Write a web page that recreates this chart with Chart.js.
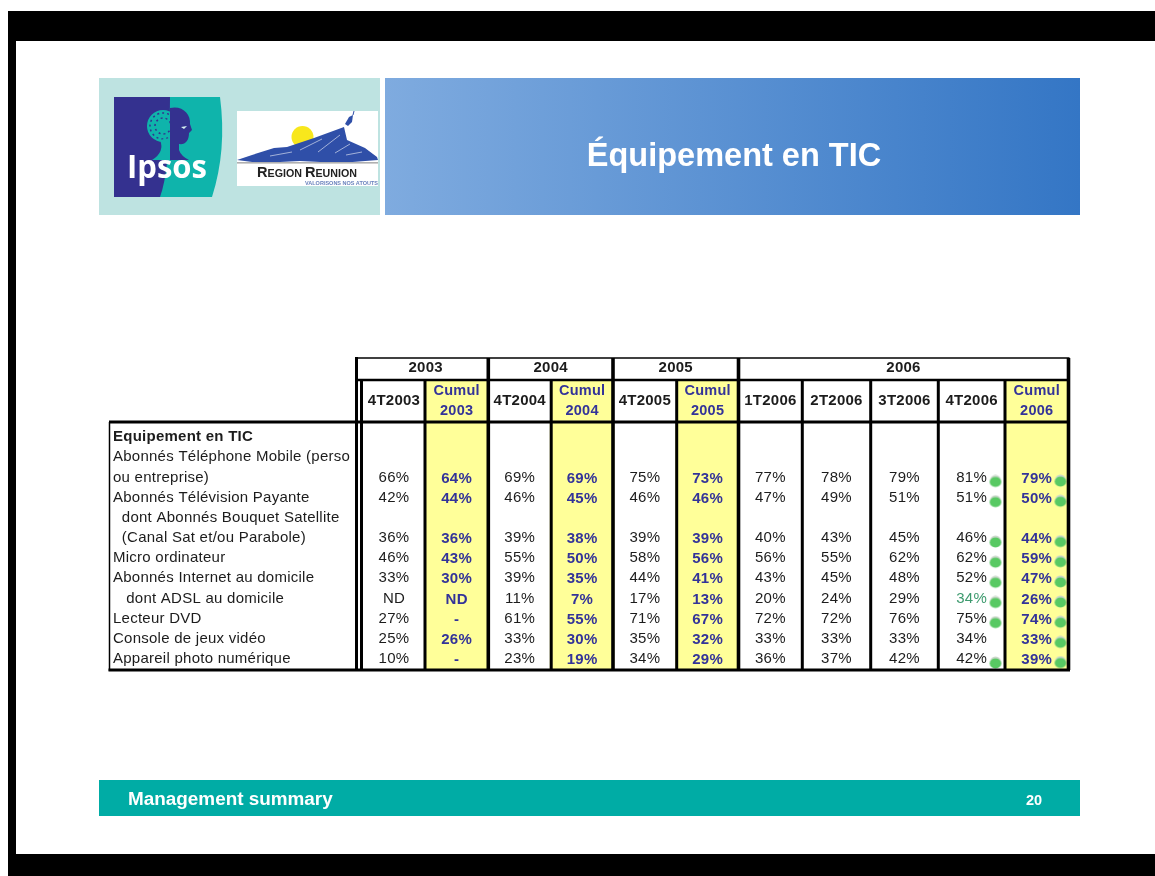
<!DOCTYPE html>
<html lang="fr">
<head>
<meta charset="utf-8">
<title>Équipement en TIC</title>
<script src="https://cdn.jsdelivr.net/npm/chart.js@4"></script>
<style>
    html, body { margin: 0; padding: 0; background: #fff; }
    #page { position: relative; width: 1155px; height: 876px; overflow: hidden; filter: blur(0.35px); }
    #page svg, #page canvas { position: absolute; left: 0; top: 0; }
    text { font-family: "Liberation Sans", Arial, sans-serif; }
</style>
</head>
<body>
<div id="page">
    <!-- Slide furniture: black frame, header band, logos, footer -->
    <svg width="1155" height="876" viewBox="0 0 1155 876">
        <defs>
            <linearGradient id="band" x1="0" x2="1" y1="0" y2="0">
                <stop offset="0" stop-color="#7fabdf"/>
                <stop offset="1" stop-color="#3476c5"/>
            </linearGradient>
        </defs>
        <rect x="8" y="11" width="1147" height="30" fill="#000"/>
        <rect x="8" y="11" width="8" height="865" fill="#000"/>
        <rect x="8" y="854" width="1147" height="22" fill="#000"/>

        <rect x="99" y="78" width="281" height="137" fill="#bee3e1"/>
        <rect x="385" y="78" width="695" height="137" fill="url(#band)"/>
        <text x="734" y="165.5" text-anchor="middle" font-size="32.5" font-weight="700" fill="#fff">Équipement en TIC</text>

        <!-- Ipsos logo -->
        <rect x="114" y="97" width="60" height="100" fill="#34318f"/>
        <path d="M170,97 L220,97 Q227,150 212,197 L160,197 Q170,170 170,97 Z" fill="#0fb4ab"/>
        <circle cx="163" cy="126" r="16" fill="#0fb4ab"/>
        <circle cx="163" cy="126" r="13" fill="none" stroke="#34318f" stroke-width="1.5" stroke-dasharray="2 3"/>
        <circle cx="163" cy="126" r="8" fill="none" stroke="#34318f" stroke-width="1.5" stroke-dasharray="2 3"/>
        <path d="M160,140 Q165,152 152,160 L170,160 L170,138 Z" fill="#0fb4ab"/>
        <path d="M170,108 C182,105 191,114 190,124 L192,130 L189,133 C189,141 185,145 179,144 L179,150 Q181,156 189,160 L170,160 Z" fill="#34318f"/>
        <path d="M181,127 L187,126 L184,129 Z" fill="#d8f2f0"/>
        <text x="127" y="178" font-size="33" font-weight="700" fill="#fff" textLength="80" lengthAdjust="spacingAndGlyphs" style="font-family:'Open Sans',sans-serif">Ipsos</text>

        <!-- Region Reunion logo -->
        <rect x="237" y="111" width="141" height="75" fill="#fff"/>
        <circle cx="302.5" cy="137" r="11" fill="#f8e71c"/>
        <path d="M237,160 L252,155 L274,148 L287,147 L314,138 L344,127 L347,140 L365,148 L377,157 L378,160 L340,163 L300,161 L260,163 Z" fill="#2f4fa8"/>
        <path d="M300,150 L322,139 M318,152 L340,135 M335,153 L350,144 M270,156 L292,152 M346,155 L362,152" stroke="#fff" stroke-width="0.8" fill="none" opacity="0.7"/>
        <path d="M345,124 L349,117 L353,115 L352,122 L348,126 Z" fill="#2f4fa8"/>
        <path d="M353,115 L354,111" stroke="#2f4fa8" stroke-width="1" fill="none"/>
        <rect x="237" y="162" width="141" height="1.6" fill="#b0b0b0"/>
        <text x="257" y="177" font-weight="700" fill="#222" textLength="100" lengthAdjust="spacingAndGlyphs"><tspan font-size="15">R</tspan><tspan font-size="11">EGION </tspan><tspan font-size="15">R</tspan><tspan font-size="11">EUNION</tspan></text>
        <text x="305" y="184.5" font-size="6" font-weight="700" fill="#6a82bd" textLength="73" lengthAdjust="spacingAndGlyphs">VALORISONS NOS ATOUTS</text>

        <rect x="99" y="780" width="981" height="36" fill="#00aca5"/>
        <text x="128" y="804.5" font-size="18.9" font-weight="700" fill="#fff">Management summary</text>
        <text x="1026" y="805" font-size="14.5" font-weight="700" fill="#fff">20</text>
    </svg>
    <canvas id="tableChart" width="1155" height="876"></canvas>
</div>

<script>
document.addEventListener('DOMContentLoaded', () => {
    // Table content
    const years = ['2003', '2004', '2005', '2006'];
    const yearSpans = [[0, 2], [2, 4], [4, 6], [6, 11]];
    const columnHeaders = ['4T2003', ['Cumul', '2003'], '4T2004', ['Cumul', '2004'], '4T2005', ['Cumul', '2005'],
        '1T2006', '2T2006', '3T2006', '4T2006', ['Cumul', '2006']];
    const rowLabels = [
        'Equipement en TIC',
        'Abonnés Téléphone Mobile (perso',
        'ou entreprise)',
        'Abonnés Télévision Payante',
        '  dont Abonnés Bouquet Satellite',
        '  (Canal Sat et/ou Parabole)',
        'Micro ordinateur',
        'Abonnés Internet au domicile',
        '   dont ADSL au domicile',
        'Lecteur DVD',
        'Console de jeux vidéo',
        'Appareil photo numérique'
    ];
    // rows that carry values, same order as the arrays below
    const valueRows = [2, 3, 5, 6, 7, 8, 9, 10, 11];

    const t4_2003 = ['66%', '42%', '36%', '46%', '33%', 'ND', '27%', '25%', '10%'];
    const cumul2003 = ['64%', '44%', '36%', '43%', '30%', 'ND', '-', '26%', '-'];
    const t4_2004 = ['69%', '46%', '39%', '55%', '39%', '11%', '61%', '33%', '23%'];
    const cumul2004 = ['69%', '45%', '38%', '50%', '35%', '7%', '55%', '30%', '19%'];
    const t4_2005 = ['75%', '46%', '39%', '58%', '44%', '17%', '71%', '35%', '34%'];
    const cumul2005 = ['73%', '46%', '39%', '56%', '41%', '13%', '67%', '32%', '29%'];
    const t1_2006 = ['77%', '47%', '40%', '56%', '43%', '20%', '72%', '33%', '36%'];
    const t2_2006 = ['78%', '49%', '43%', '55%', '45%', '24%', '72%', '33%', '37%'];
    const t3_2006 = ['79%', '51%', '45%', '62%', '48%', '29%', '76%', '33%', '42%'];
    const t4_2006 = ['81%', '51%', '46%', '62%', '52%', '34%', '75%', '34%', '42%'];
    const cumul2006 = ['79%', '50%', '44%', '59%', '47%', '26%', '74%', '33%', '39%'];
    const columns = [t4_2003, cumul2003, t4_2004, cumul2004, t4_2005, cumul2005, t1_2006, t2_2006, t3_2006, t4_2006, cumul2006];

    // green markers: rows marked in 4T2006 and Cumul 2006
    const markedRows4T = [2, 3, 5, 6, 7, 8, 9, 11];
    const markedRowsCumul = [2, 3, 5, 6, 7, 8, 9, 10, 11];

    // Layout of the scale: column widths in px, x scale runs in px from the first column
    const columnWidths = [62, 63.3, 62.9, 61.8, 63.7, 61.8, 63.8, 68.4, 67.6, 66.7, 63.5];
    const edges = [0];
    columnWidths.forEach(w => edges.push(edges[edges.length - 1] + w));
    const centers = columnWidths.map((w, i) => edges[i] + w / 2);
    const yearCenters = yearSpans.map(s => (edges[s[0]] + edges[s[1]]) / 2);
    const isCumul = i => Array.isArray(columnHeaders[i]);

    const BLACK = '#1c1c1c';
    const BLUE = '#333399';
    const GREEN_TEXT = '#3d9a6e';
    const YELLOW = '#ffff99';
    const FONT = '"Liberation Sans", Arial, sans-serif';
    const SPACING = '0.25px';

    // Marker image: green pill with a pale rim on top
    function makeDot() {
        const c = document.createElement('canvas');
        c.width = 14;
        c.height = 14;
        const g = c.getContext('2d');
        g.fillStyle = '#c9d6c9';
        g.beginPath();
        g.arc(7, 6, 5.5, 0, Math.PI * 2);
        g.fill();
        g.fillStyle = '#58c963';
        g.beginPath();
        g.ellipse(7, 7.5, 5.8, 5, 0, 0, Math.PI * 2);
        g.fill();
        return c;
    }
    const dot = makeDot();

    const cellDatasets = columns.map((values, i) => ({
        type: 'scatter',
        label: 'col' + i,
        data: values.map((v, j) => ({ x: centers[i], y: valueRows[j], text: v })),
        pointRadius: 0,
        order: 3
    }));

    const tablePlugin = {
        id: 'tablePlugin',
        beforeDraw(chart) {
            chart.ctx.letterSpacing = SPACING;
        },
        afterDatasetsDraw(chart) {
            const { ctx, scales } = chart;
            const x = scales.x;
            const y = scales.y;
            const yearTop = scales.xYear.top;
            const headTop = x.top;
            const headBottom = x.bottom;
            const bottom = y.bottom;
            const left = x.left;

            // yellow header cells
            ctx.save();
            ctx.fillStyle = YELLOW;
            columnWidths.forEach((w, i) => {
                if (isCumul(i)) {
                    const a = x.getPixelForValue(edges[i]);
                    ctx.fillRect(a, headTop, x.getPixelForValue(edges[i + 1]) - a, headBottom - headTop);
                }
            });

            // rules
            ctx.strokeStyle = '#000';
            const line = (x1, y1, x2, y2, w) => {
                ctx.lineWidth = w;
                ctx.beginPath();
                ctx.moveTo(x1, y1);
                ctx.lineTo(x2, y2);
                ctx.stroke();
            };
            const right = x.getPixelForValue(edges[edges.length - 1]);
            edges.slice(1).forEach((e, i) => {
                const yearEnd = yearSpans.some(s => s[1] === i + 1);
                const px = x.getPixelForValue(e);
                line(px, yearEnd ? yearTop : headTop, px, bottom + 1, yearEnd ? 3.6 : 3);
            });
            line(left - 6.5, yearTop - 1, left - 6.5, bottom + 1, 3);
            line(left - 1.5, headTop, left - 1.5, bottom + 1, 3);
            line(left - 7, yearTop, right + 1, yearTop, 1.5);
            line(left - 7, headTop - 1, right + 1, headTop - 1, 2.5);
            line(y.left - 4, headBottom - 1, right + 1, headBottom - 1, 3);
            line(y.left - 4.5, bottom + 1, right + 1.5, bottom + 1, 3);
            line(y.left - 3.5, headBottom - 1, y.left - 3.5, bottom + 2, 1.5);

            // cell values
            ctx.textAlign = 'center';
            ctx.textBaseline = 'middle';
            cellDatasets.forEach((ds, i) => {
                const meta = chart.getDatasetMeta(chart.data.datasets.indexOf(ds));
                const cumul = isCumul(i);
                ds.data.forEach((d, j) => {
                    const el = meta.data[j];
                    ctx.font = (cumul ? 'bold ' : '') + '15px ' + FONT;
                    ctx.fillStyle = cumul ? BLUE : BLACK;
                    if (i === 9 && d.y === 8) {
                        ctx.fillStyle = GREEN_TEXT;
                    }
                    ctx.fillText(d.text, el.x, el.y + (cumul ? 1 : 0));
                });
            });
            ctx.restore();
        }
    };

    new Chart(document.getElementById('tableChart'), {
        type: 'bar',
        data: {
            datasets: [
                {
                    type: 'bar',
                    label: 'Cumul',
                    data: centers.filter((c, i) => isCumul(i)).map(c => ({ x: c, y: [-0.7, 11.5] })),
                    backgroundColor: YELLOW,
                    barThickness: 64,
                    order: 4
                },
                ...cellDatasets,
                {
                    type: 'scatter',
                    label: 'Repères 4T2006',
                    data: markedRows4T.map(r => ({ x: edges[10] - 9.5, y: r + 0.2 })),
                    pointStyle: dot,
                    order: 1
                },
                {
                    type: 'scatter',
                    label: 'Repères Cumul 2006',
                    data: markedRowsCumul.map(r => ({ x: edges[11] - 8, y: r + 0.18 })),
                    pointStyle: dot,
                    order: 1
                }
            ]
        },
        plugins: [tablePlugin],
        options: {
            responsive: false,
            animation: false,
            events: [],
            layout: {
                padding: { left: 113, right: 1155 - 363 - edges[edges.length - 1], top: 358, bottom: 876 - 669 }
            },
            plugins: {
                legend: { display: false },
                tooltip: { enabled: false }
            },
            scales: {
                x: {
                    type: 'linear',
                    position: 'top',
                    weight: 0,
                    offset: false,
                    min: 0,
                    max: edges[edges.length - 1],
                    grid: { display: false, drawTicks: false },
                    border: { display: false },
                    afterBuildTicks: axis => { axis.ticks = centers.map(v => ({ value: v })); },
                    afterFit: axis => { axis.height = 42; },
                    ticks: {
                        z: 1,
                        autoSkip: false,
                        maxRotation: 0,
                        padding: 12,
                        crossAlign: 'center',
                        callback: (v, i) => columnHeaders[i],
                        color: ctx => isCumul(ctx.index) ? BLUE : BLACK,
                        font: ctx => ({ family: FONT, size: isCumul(ctx.index) ? 14.5 : 15, weight: 'bold', lineHeight: 20 / 14.5 })
                    }
                },
                xYear: {
                    type: 'linear',
                    position: 'top',
                    weight: 1,
                    offset: false,
                    min: 0,
                    max: edges[edges.length - 1],
                    grid: { display: false, drawTicks: false },
                    border: { display: false },
                    afterBuildTicks: axis => { axis.ticks = yearCenters.map(v => ({ value: v })); },
                    afterFit: axis => { axis.height = 23; },
                    ticks: {
                        z: 1,
                        autoSkip: false,
                        maxRotation: 0,
                        padding: 4,
                        callback: (v, i) => years[i],
                        color: BLACK,
                        font: { family: FONT, size: 15, weight: 'bold' }
                    }
                },
                y: {
                    type: 'linear',
                    position: 'left',
                    reverse: true,
                    min: -0.7,
                    max: 11.5,
                    grid: { display: false, drawTicks: false },
                    border: { display: false },
                    afterBuildTicks: axis => { axis.ticks = rowLabels.map((l, i) => ({ value: i })); },
                    afterFit: axis => { axis.width = 250; },
                    ticks: {
                        autoSkip: false,
                        padding: 0,
                        crossAlign: 'far',
                        callback: (v, i) => rowLabels[i],
                        color: BLACK,
                        font: ctx => ({ family: FONT, size: 15, weight: ctx.index === 0 ? 'bold' : 'normal' })
                    }
                }
            }
        }
    });
});
</script>
</body>
</html>
